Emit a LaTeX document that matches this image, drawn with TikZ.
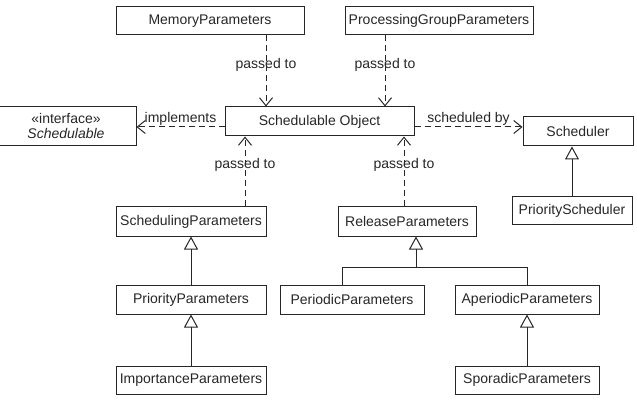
\documentclass[tikz,border=0pt]{standalone}
\usepackage{fontspec}
\setmainfont{Liberation Sans}
\usetikzlibrary{positioning,calc,arrows.meta}

\begin{document}
\begin{tikzpicture}[x=1pt, y=-1pt, line width=1pt, color=black!85,
    every node/.style={font=\fontsize{14}{15}\selectfont},
    cls/.style={draw, rectangle, minimum height=29pt, inner sep=2pt},
    dep/.style={dash pattern=on 6pt off 4pt, -{Straight Barb[length=8pt, width=13pt]}},
    inh/.style={-{Triangle[open, length=13pt, width=14pt]}}]
    \useasboundingbox (0,0) rectangle (637,414);

    % Central object and its neighbours
    \node[cls, minimum width=189pt] (so) at (319.5,121.5) {Schedulable Object};
    \node[cls, minimum width=140pt, minimum height=39pt, align=center] (iface) at (66,126.5) {«interface»\\\textit{Schedulable}};
    \node[cls, minimum width=110pt] (sched) at (578,131.5) {Scheduler};
    \node[cls, minimum width=120pt, minimum height=28pt] (psched) at (572,211) {PriorityScheduler};

    % Parameter classes
    \node[cls, minimum width=188pt, minimum height=28pt] (mem) at (210,21) {MemoryParameters};
    \node[cls, minimum width=188pt, minimum height=28pt] (pgp) at (439,21) {ProcessingGroupParameters};
    \node[cls, minimum width=150pt] (schp) at (191,221.5) {SchedulingParameters};
    \node[cls, minimum width=138pt] (relp) at (407,221.5) {ReleaseParameters};
    \node[cls, minimum width=150pt] (prip) at (191,299.5) {PriorityParameters};
    \node[cls, minimum width=144pt] (perp) at (352,299.5) {PeriodicParameters};
    \node[cls, minimum width=144pt] (aperp) at (527,299.5) {AperiodicParameters};
    \node[cls, minimum width=150pt, minimum height=28pt] (impp) at (191,380) {ImportanceParameters};
    \node[cls, minimum width=144pt, minimum height=28pt] (spop) at (527,380) {SporadicParameters};

    % Dependencies into the schedulable object
    \coordinate (memout) at ($(mem.south)+(56,0)$);
    \coordinate (pgpout) at ($(pgp.south)+(-54,0)$);
    \coordinate (schpout) at ($(schp.north)+(54,0)$);
    \coordinate (relpout) at ($(relp.north)+(-3,0)$);
    \draw[dep] (memout) -- (memout |- so.north) node[pos=0.42] {passed to};
    \draw[dep] (pgpout) -- (pgpout |- so.north) node[pos=0.42] {passed to};
    \draw[dep] (schpout) -- (schpout |- so.south) node[pos=0.59] {passed to};
    \draw[dep] (relpout) -- (relpout |- so.south) node[pos=0.59] {passed to};

    % Interface and scheduler
    \coordinate (soleft) at ($(so.west)+(0,5.5)$);
    \coordinate (soright) at ($(so.east)+(0,5.5)$);
    \draw[dep] (soleft) -- (soleft -| iface.east) node[midway, above, inner sep=1pt] {implements};
    \draw[dep] (soright) -- (soright -| sched.west) node[midway, above, inner sep=1pt] {scheduled by};

    % Generalisations
    \draw[inh] (psched.north) -- (psched.north |- sched.south);
    \draw[inh] (prip.north) -- (schp.south);
    \draw[inh] (impp.north) -- (prip.south);
    \draw[inh] (spop.north) -- (aperp.south);
    \coordinate (join) at ($(relp.south)+(9,31)$);
    \coordinate (pertop) at ($(perp.north)+(-10,0)$);
    \draw (pertop) |- (join) -| (aperp.north);
    \draw[inh] (join) -- (join |- relp.south);
\end{tikzpicture}
\end{document}
